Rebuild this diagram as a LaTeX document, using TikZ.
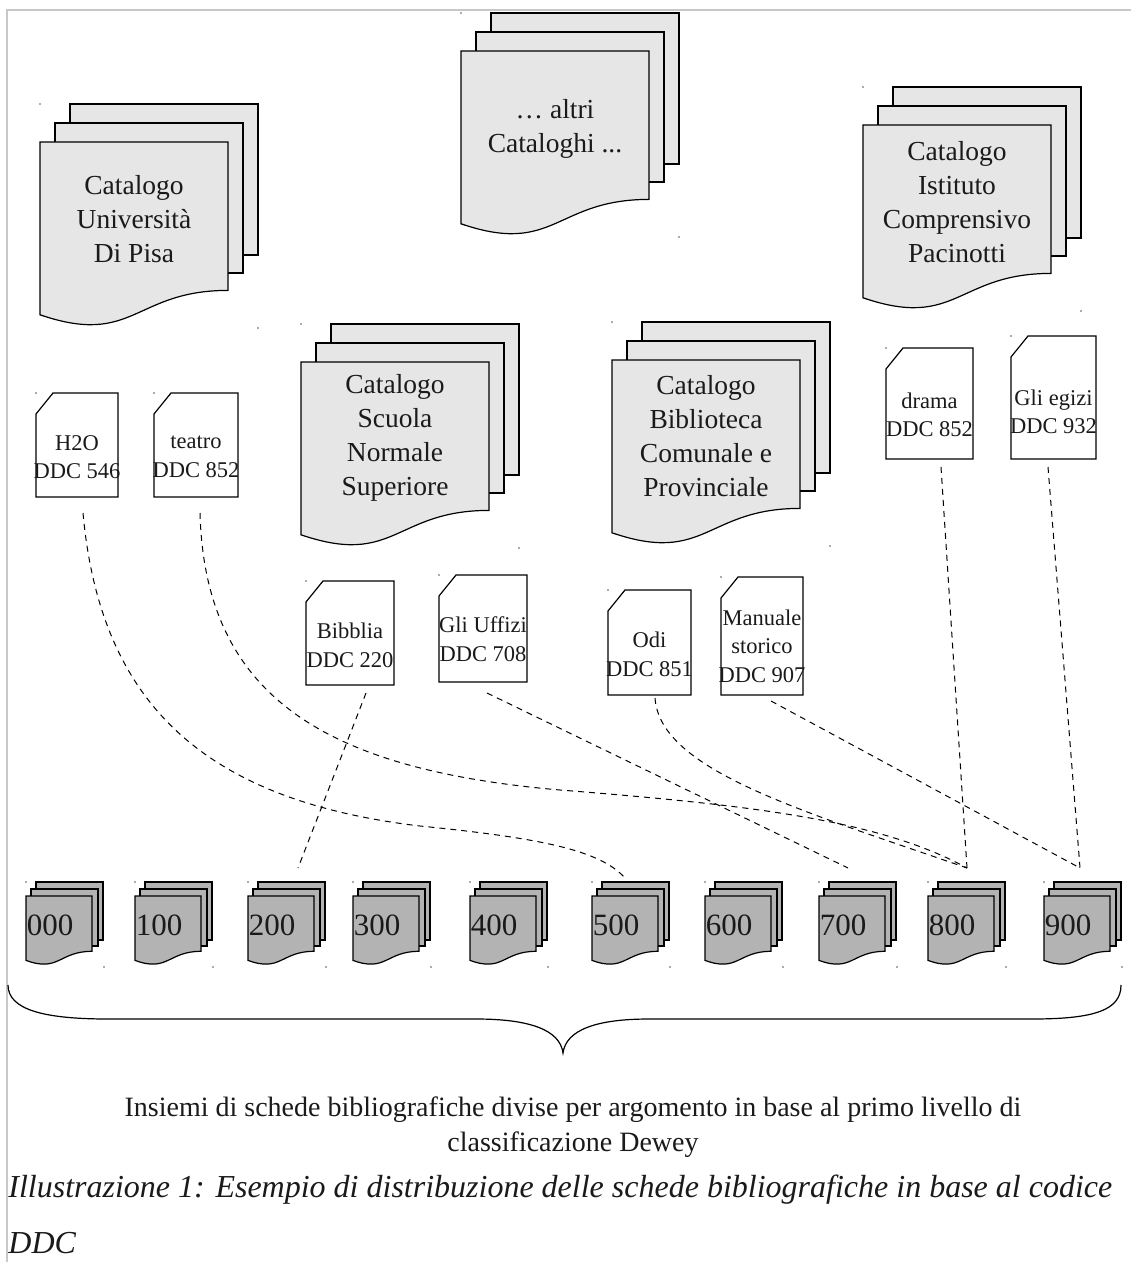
\documentclass[tikz,border=0pt]{standalone}
\usepackage{fontspec}
\setmainfont{Liberation Serif}
\definecolor{catfill}{HTML}{E6E6E6}
\definecolor{ddcfill}{HTML}{B3B3B3}
\definecolor{framec}{HTML}{C8C8C8}
\definecolor{txt}{HTML}{1A1A1A}
\tikzset{
  sheet/.style={draw=black, line width=0.6pt, line join=miter},
  catsheet/.style={sheet, fill=catfill},
  ddcsheet/.style={sheet, fill=ddcfill},
  cardsty/.style={sheet, fill=white},
  cattext/.style={align=center, inner sep=0pt, text=txt, font=\fontsize{13.75}{17}\selectfont},
  cardtext/.style={align=center, inner sep=0pt, text=txt, font=\fontsize{11.25}{14.3}\selectfont},
  numtext/.style={inner sep=0pt, text=txt, font=\fontsize{15.5}{18}\selectfont},
  captext/.style={align=center, inner sep=0pt, text=txt, font=\fontsize{14}{17}\selectfont},
  italcap/.style={inner sep=0pt, anchor=west, text=txt, font=\fontsize{16}{19}\selectfont\itshape},
  link/.style={draw=black, line width=0.5pt, dash pattern=on 3pt off 2.5pt},
  marker/.style={fill=black!65},
  framestyle/.style={draw=framec, line width=0.6pt},
}
% catalogue stack: #1 = X, #2 = Y (top-left of the front sheet)
\newcommand\catstack[2]{%
  \draw[catsheet] ({#1+30},{#2-38}) rectangle ({#1+218},{#2+113});
  \draw[catsheet] ({#1+15},{#2-19}) rectangle ({#1+203},{#2+131});
  \draw[catsheet] (#1,#2) -- ({#1+188},#2) -- ({#1+188},{#2+148.4})
     .. controls ({#1+94},{#2+148.4}) and ({#1+94},{#2+205}) .. (#1,{#2+172.8}) -- cycle;
  \fill[marker] (#1,{#2-38}) circle (0.9);
  \fill[marker] ({#1+218},{#2+186}) circle (0.9);
}
% DDC stack: #1 = X, #2 = Y
\newcommand\ddcstack[2]{%
  \draw[ddcsheet] ({#1+10},{#2-14}) rectangle ({#1+77},{#2+44});
  \draw[ddcsheet] ({#1+5},{#2-7}) rectangle ({#1+72},{#2+50});
  \draw[ddcsheet] (#1,#2) -- ({#1+66},#2) -- ({#1+66},{#2+55.3})
     .. controls ({#1+33},{#2+55.3}) and ({#1+33},{#2+76.5}) .. (#1,{#2+64.4}) -- cycle;
  \fill[marker] (#1,{#2-14}) circle (0.9);
  \fill[marker] ({#1+78},{#2+71}) circle (0.9);
}
% card: #1 left, #2 top, #3 right, #4 bottom
\newcommand\cardshape[4]{%
  \draw[cardsty] (#1,{#2+21}) -- ({#1+17},#2) -- (#3,#2) -- (#3,#4) -- (#1,#4) -- cycle;
  \fill[marker] (#1,#2) circle (0.9);
}
\begin{document}
\begin{tikzpicture}[x=0.5pt,y=-0.5pt]
\useasboundingbox (0,0) rectangle (1131,1262);
\fill[white] (0,0) rectangle (1131,1262);
\draw[framestyle] (7,1262) -- (7,10) -- (1131,10);

% catalogues
\catstack{40}{142}
\node[cattext] (unipi) at (134,219) {Catalogo\\Università\\Di Pisa};
\catstack{461}{51}
\node[cattext] (altri) at (555,129) {… altri\\Cataloghi ...};
\catstack{301}{362}
\node[cattext] (sns) at (395,438) {Catalogo\\Scuola\\Normale\\Superiore};
\catstack{612}{360}
\node[cattext] (bcp) at (706,436) {Catalogo\\Biblioteca\\Comunale e\\Provinciale};
\catstack{863}{125}
\node[cattext] (icp) at (957,202) {Catalogo\\Istituto\\Comprensivo\\Pacinotti};

% cards
\cardshape{36}{393}{118}{497}
\node[cardtext] (h2o) at (77,457) {H2O\\DDC 546};
\cardshape{154}{393}{238}{497}
\node[cardtext] (teatro) at (196,457) {teatro\\DDC 852};
\cardshape{306}{581}{394}{685}
\node[cardtext] (bibblia) at (350,645) {Bibblia\\DDC 220};
\cardshape{439}{575}{527}{682}
\node[cardtext] (uffizi) at (483,639) {Gli Uffizi\\DDC 708};
\cardshape{608}{590}{691}{695}
\node[cardtext] (odi) at (649.5,654) {Odi\\DDC 851};
\cardshape{721}{577}{803}{695}
\node[cardtext] (manuale) at (762,646) {Manuale\\storico\\DDC 907};
\cardshape{886}{348}{973}{459}
\node[cardtext] (drama) at (929.5,415) {drama\\DDC 852};
\cardshape{1011}{336}{1096}{459}
\node[cardtext] (egizi) at (1053.5,412) {Gli egizi\\DDC 932};

% DDC stacks
\ddcstack{26}{896}  \node[numtext] (d000) at (50,925) {000};
\ddcstack{135}{896} \node[numtext] (d100) at (159,925) {100};
\ddcstack{248}{896} \node[numtext] (d200) at (272,925) {200};
\ddcstack{353}{896} \node[numtext] (d300) at (377,925) {300};
\ddcstack{470}{896} \node[numtext] (d400) at (494,925) {400};
\ddcstack{592}{896} \node[numtext] (d500) at (616,925) {500};
\ddcstack{705}{896} \node[numtext] (d600) at (729,925) {600};
\ddcstack{819}{896} \node[numtext] (d700) at (843,925) {700};
\ddcstack{928}{896} \node[numtext] (d800) at (952,925) {800};
\ddcstack{1044}{896} \node[numtext] (d900) at (1068,925) {900};

% connector end points
\coordinate (h2o-b) at (83,513);
\coordinate (tea-b) at (200,513);
\coordinate (bib-b) at (366,693);
\coordinate (uff-b) at (487,693);
\coordinate (odi-b) at (655,698);
\coordinate (man-b) at (771,701);
\coordinate (dra-b) at (941,467);
\coordinate (egi-b) at (1048,467);
\coordinate (t200) at (298,868);
\coordinate (t500) at (625,878);
\coordinate (t700) at (848,868);
\coordinate (t800) at (967,868);
\coordinate (t900) at (1080,868);

% connectors
\draw[link] (h2o-b) .. controls (100,700) and (200,800) .. (420,826)
            .. controls (540,838) and (600,850) .. (t500);
\draw[link] (tea-b) .. controls (205,700) and (330,770) .. (560,790)
            .. controls (750,805) and (880,820) .. (t800);
\draw[link] (bib-b) -- (t200);
\draw[link] (uff-b) -- (t700);
\draw[link] (odi-b) .. controls (660,770) and (800,810) .. (t800);
\draw[link] (man-b) -- (t900);
\draw[link] (dra-b) -- (t800);
\draw[link] (egi-b) -- (t900);

% brace
\coordinate (brL) at (8,985);
\coordinate (brC) at (563,1053);
\coordinate (brR) at (1121,985);
\draw[black, line width=0.6pt] (brL) .. controls (8,1010) and (45,1019) .. (108,1019)
   -- (476,1019) .. controls (530,1019) and (560,1030) .. (brC)
   .. controls (566,1030) and (596,1019) .. (649,1019)
   -- (1032,1019) .. controls (1095,1019) and (1121,1010) .. (brR);

% captions
\node[captext] (cap1) at (573,1110) {Insiemi di schede bibliografiche divise per argomento in base al primo livello di};
\node[captext] (cap2) at (573,1145) {classificazione Dewey};
\node[italcap] (ill1) at (8,1190) {Illustrazione 1: Esempio di distribuzione delle schede bibliografiche in base al codice};
\node[italcap] (ill2) at (8,1243) {DDC};
\end{tikzpicture}
\end{document}
